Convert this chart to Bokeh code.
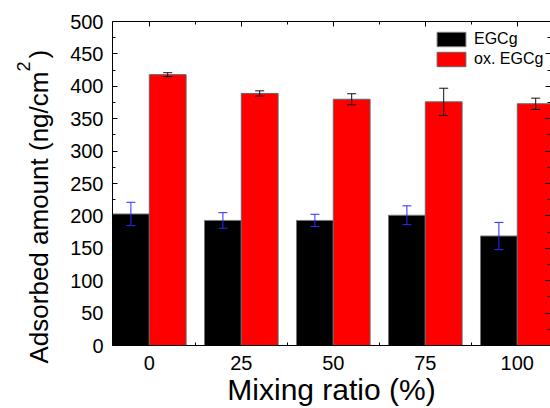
from bokeh.plotting import figure
from bokeh.models import (Range1d, FixedTicker, LinearAxis, Whisker, ColumnDataSource,
                          Title, Legend, LegendItem, TeeHead)
from bokeh.embed import file_html
from bokeh.resources import INLINE

# ---- data ----
ratios = ["0", "25", "50", "75", "100"]
egcg = [203, 193, 193, 201, 169]
egcg_err = [18, 12, 9.5, 14.5, 21]
ox_egcg = [418, 389, 380, 376, 373]
ox_err = [3, 4, 8.5, 21, 8.7]
y_major = [0, 50, 100, 150, 200, 250, 300, 350, 400, 450, 500]
y_minor = [25, 75, 125, 175, 225, 275, 325, 375, 425, 475]

FONT = "Liberation Sans"
idx = list(range(len(ratios)))
xb = [i - 0.2 for i in idx]
xr = [i + 0.2 for i in idx]

src_b = ColumnDataSource(dict(x=xb, top=egcg,
                              upper=[v + e for v, e in zip(egcg, egcg_err)],
                              lower=[v - e for v, e in zip(egcg, egcg_err)]))
src_r = ColumnDataSource(dict(x=xr, top=ox_egcg,
                              upper=[v + e for v, e in zip(ox_egcg, ox_err)],
                              lower=[v - e for v, e in zip(ox_egcg, ox_err)]))

p = figure(width=550, height=408, x_range=Range1d(-0.4, 4.361), y_range=Range1d(0, 500),
           output_backend="svg", toolbar_location=None,
           min_border_left=112, min_border_right=0, min_border_top=21, min_border_bottom=0)
p.outline_line_color = None
p.grid.visible = False
p.background_fill_color = "white"

rb = p.vbar(x="x", top="top", width=0.4, source=src_b, fill_color="black",
            line_color="#777777", line_width=1)
rr = p.vbar(x="x", top="top", width=0.4, source=src_r, fill_color="#ff0000",
            line_color="#666666", line_width=1)

wb = Whisker(source=src_b, base="x", upper="upper", lower="lower", dimension="height",
             line_color="#2a2aff", line_width=1, level="annotation",
             upper_head=TeeHead(size=9, line_color="#2a2aff", line_width=1),
             lower_head=TeeHead(size=9, line_color="#2a2aff", line_width=1))
wr = Whisker(source=src_r, base="x", upper="upper", lower="lower", dimension="height",
             line_color="#111111", line_width=1, level="annotation",
             upper_head=TeeHead(size=9, line_color="#111111", line_width=1),
             lower_head=TeeHead(size=9, line_color="#111111", line_width=1))
p.add_layout(wb)
p.add_layout(wr)

xt = FixedTicker(ticks=idx, minor_ticks=[0.5, 1.5, 2.5, 3.5])
yt = FixedTicker(ticks=y_major, minor_ticks=y_minor)

# bottom axis
xa = p.xaxis[0]
xa.ticker = xt
xa.major_label_overrides = {i: r for i, r in zip(idx, ratios)}
xa.major_tick_in = 0
xa.major_tick_out = 0
xa.minor_tick_in = 3
xa.minor_tick_out = 0
xa.axis_line_color = "black"
xa.major_label_text_font = FONT
xa.major_label_text_font_size = "20px"
xa.major_label_text_color = "black"
xa.major_label_standoff = 10
xa.axis_label = "Mixing ratio (%)"
xa.axis_label_text_font = FONT
xa.axis_label_text_font_size = "30px"
xa.axis_label_text_font_style = "normal"
xa.axis_label_text_color = "black"
xa.axis_label_standoff = 0

# left axis
ya = p.yaxis[0]
ya.ticker = yt
ya.major_tick_in = 5
ya.major_tick_out = 0
ya.minor_tick_in = 3
ya.minor_tick_out = 0
ya.axis_line_color = "black"
ya.major_label_text_font = FONT
ya.major_label_text_font_size = "20px"
ya.major_label_text_color = "black"
ya.major_label_standoff = 9

# top axis (ticks only)
ta = LinearAxis(ticker=xt, major_label_text_font_size="0px", major_tick_in=5, major_tick_out=0,
                minor_tick_in=3, minor_tick_out=0, axis_line_color="black",
                major_label_standoff=0, major_label_overrides={i: "" for i in idx})
p.add_layout(ta, "above")

# right axis (ticks only, line off-screen in reference)
ra = LinearAxis(ticker=yt, major_label_text_font_size="0px", major_tick_in=5, major_tick_out=0,
                minor_tick_in=3, minor_tick_out=0, axis_line_color=None,
                major_label_standoff=0, major_label_overrides={v: "" for v in y_major})
p.add_layout(ra, "right")

# y-axis title with raised superscript, as side titles
t_main = Title(text="Adsorbed amount (ng/cm\u2002)", align="left", offset=-18, standoff=28,
               text_font=FONT, text_font_size="26px", text_font_style="normal",
               text_color="black")
t_sup = Title(text="2", align="left", offset=274, standoff=-44,
              text_font=FONT, text_font_size="18px", text_font_style="normal",
              text_color="black")
p.add_layout(t_main, "left")
p.add_layout(t_sup, "left")

legend = Legend(items=[LegendItem(label="EGCg", renderers=[rb]),
                       LegendItem(label="ox. EGCg", renderers=[rr])],
                location=(321, 277), glyph_width=36, glyph_height=18, label_height=18,
                label_text_font=FONT, label_text_font_size="16px", label_text_color="black",
                label_standoff=5, spacing=2, padding=0, margin=0,
                border_line_color=None, background_fill_alpha=0)
p.add_layout(legend)

open("out.html", "w").write(file_html(p, INLINE))
